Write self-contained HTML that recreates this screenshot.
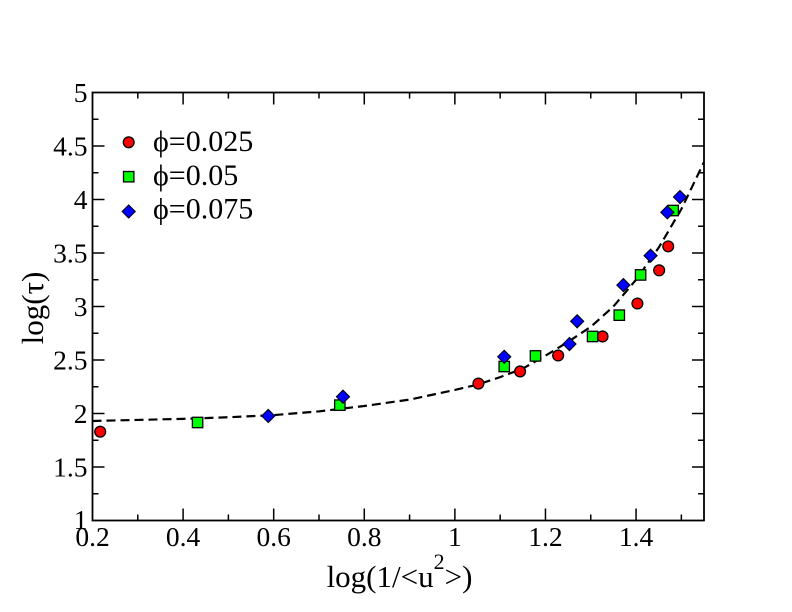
<!DOCTYPE html>
<html>
<head>
<meta charset="utf-8">
<style>
html,body{margin:0;padding:0;background:#fff;}
svg{display:block;}
text{font-family:"Liberation Serif","DejaVu Serif",serif;fill:#000;}
</style>
</head>
<body>
<svg id="chart" width="792" height="612" viewBox="0 0 792 612" xmlns="http://www.w3.org/2000/svg">
<rect x="0" y="0" width="792" height="612" fill="#fff"></rect>
<g id="curve"></g>
<g id="marks"></g>
<rect x="92.5" y="92.5" width="611.5" height="428" fill="none" stroke="#000" stroke-width="1.8"></rect>
<g id="ticks"></g>
<g id="legend"></g>
<text x="399.5" y="587" font-size="31" text-anchor="middle">log(1/&lt;u<tspan font-size="22" dy="-18">2</tspan><tspan dy="18">&gt;)</tspan></text>
<text transform="translate(43,308) rotate(-90)" font-size="31" text-anchor="middle">log(τ)</text>
</svg>
<script>
var xMajor = [0.2, 0.4, 0.6, 0.8, 1, 1.2, 1.4];
var xMajorLabels = ['0.2', '0.4', '0.6', '0.8', '1', '1.2', '1.4'];
var xMinor = [0.3, 0.5, 0.7, 0.9, 1.1, 1.3, 1.5];
var yMajor = [1, 1.5, 2, 2.5, 3, 3.5, 4, 4.5, 5];
var yMajorLabels = ['1', '1.5', '2', '2.5', '3', '3.5', '4', '4.5', '5'];
var yMinor = [1.25, 1.75, 2.25, 2.75, 3.25, 3.75, 4.25, 4.75];

var red025X = [0.217, 1.052, 1.144, 1.228, 1.326, 1.403, 1.451, 1.471];
var red025Y = [1.83, 2.28, 2.393, 2.542, 2.72, 3.028, 3.338, 3.562];
var green05X = [0.432, 0.746, 1.109, 1.178, 1.304, 1.363, 1.41, 1.482];
var green05Y = [1.916, 2.078, 2.439, 2.538, 2.72, 2.919, 3.295, 3.897];
var blue075X = [0.588, 0.753, 1.109, 1.253, 1.27, 1.372, 1.432, 1.469, 1.497];
var blue075Y = [1.977, 2.157, 2.53, 2.649, 2.862, 3.2, 3.475, 3.88, 4.023];

var fitX = [0.2, 0.3, 0.4, 0.5, 0.6, 0.7, 0.8, 0.9, 1.0, 1.05, 1.1, 1.15, 1.2, 1.25, 1.3, 1.35, 1.4, 1.45, 1.5, 1.55];
var fitY = [1.93, 1.94, 1.95, 1.965, 1.985, 2.02, 2.07, 2.13, 2.22, 2.27, 2.34, 2.42, 2.54, 2.67, 2.81, 3.0, 3.25, 3.55, 3.91, 4.35];

var legendLabels = ['=0.025', '=0.05', '=0.075'];

var NS = 'http://www.w3.org/2000/svg';
function sx(v) { return 92.5 + (v - 0.2) * 611.5 / 1.35; }
function sy(v) { return 520.5 - (v - 1) * 107; }
function make(tag, parent, attrs) {
  var el = document.createElementNS(NS, tag);
  for (var k in attrs) { el.setAttribute(k, attrs[k]); }
  parent.appendChild(el);
  return el;
}
function tickLine(parent, x1, y1, x2, y2) {
  var el = make('line', parent, { x1: x1, y1: y1, x2: x2, y2: y2, stroke: '#000', 'stroke-width': 1.5 });
  
  
}
function drawCircle(parent, cx, cy) {
  var el = make('circle', parent, { cx: cx, cy: cy, r: 5.4, fill: '#ff0000', stroke: '#000', 'stroke-width': 1.3 });
  
  
}
function drawSquare(parent, cx, cy) {
  var el = make('rect', parent, { x: cx - 5.2, y: cy - 5.2, width: 10.4, height: 10.4, fill: '#00ff00', stroke: '#000', 'stroke-width': 1.3 });
  
  
}
function drawDiamond(parent, cx, cy) {
  var d = 6.6;
  var pts = (cx - d) + ',' + cy + ' ' + cx + ',' + (cy - d) + ' ' + (cx + d) + ',' + cy + ' ' + cx + ',' + (cy + d);
  var el = make('polygon', parent, { points: pts, fill: '#0000ff', stroke: '#000', 'stroke-width': 1 });
  
  
}

var ticks = document.getElementById('ticks');
xMajor.forEach(function (v, i) {
  var x = sx(v);
  if (i > 0) {
    tickLine(ticks, x, 520.5, x, 508.5);
    tickLine(ticks, x, 92.5, x, 104.5);
  }
  var t = make('text', ticks, { x: x, y: 546, 'font-size': 27.5, 'text-anchor': 'middle' });
  
  
  t.textContent = xMajorLabels[i];
});
xMinor.forEach(function (v) {
  var x = sx(v);
  tickLine(ticks, x, 520.5, x, 514.5);
  tickLine(ticks, x, 92.5, x, 98.5);
});
yMajor.forEach(function (v, i) {
  var y = sy(v);
  if (i > 0 && i < yMajor.length - 1) {
    tickLine(ticks, 92.5, y, 104.5, y);
    tickLine(ticks, 704, y, 692, y);
  }
  var t = make('text', ticks, { x: 87.5, y: y + 8.5 + (i === 0 ? 0 : 1), 'font-size': 27.5, 'text-anchor': 'end' });
  
  
  t.textContent = yMajorLabels[i];
});
yMinor.forEach(function (v) {
  var y = sy(v);
  tickLine(ticks, 92.5, y, 98.5, y);
  tickLine(ticks, 704, y, 698, y);
});

var curveLayer = document.getElementById('curve');
var d = '';
fitX.forEach(function (v, i) {
  d += (i === 0 ? 'M' : 'L') + sx(v).toFixed(2) + ' ' + sy(fitY[i]).toFixed(2) + ' ';
});
var fit = make('path', curveLayer, { d: d, fill: 'none', stroke: '#000', 'stroke-width': 2.2, 'stroke-dasharray': '9 5' });



var marks = document.getElementById('marks');
red025X.forEach(function (v, i) { drawCircle(marks, sx(v), sy(red025Y[i])); });
green05X.forEach(function (v, i) { drawSquare(marks, sx(v), sy(green05Y[i])); });
blue075X.forEach(function (v, i) { drawDiamond(marks, sx(v), sy(blue075Y[i])); });

var legend = document.getElementById('legend');
var legendRows = [142.3, 176.7, 211.5];
var legendBaselines = [151, 185, 218.5];
var legendDraw = [drawCircle, drawSquare, drawDiamond];
legendRows.forEach(function (y, i) {
  legendDraw[i](legend, 128.7, y);
  var t = make('text', legend, { x: 153, y: legendBaselines[i], 'font-size': 30 });
  
  
  t.textContent = '\u03D5' + legendLabels[i];
});
</script>
</body>
</html>
